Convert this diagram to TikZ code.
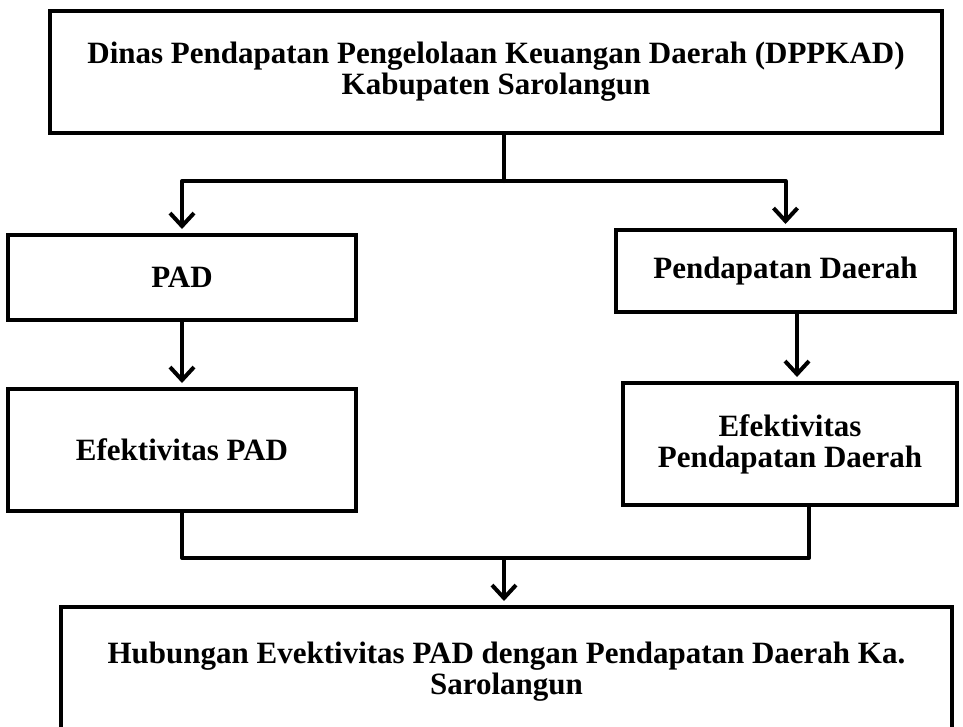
\documentclass[tikz,border=0pt]{standalone}
\usepackage{fontspec}
\setmainfont{Liberation Serif}
\usetikzlibrary{positioning,arrows.meta}
\definecolor{boxline}{HTML}{000000}
\tikzset{
  kotak/.style ={draw=boxline, line width=4pt, fill=white, align=center,
                 inner sep=0pt, font=\bfseries\fontsize{31}{31}\selectfont},
  alur/.style  ={line width=4pt, line cap=round, line join=round, draw=boxline},
  panah/.style ={alur, -{Straight Barb[length=13pt,width=24pt,line width=4pt]}, shorten >=4pt},
}
\begin{document}
\begin{tikzpicture}[x=1pt,y=-1pt]
  \useasboundingbox (0,0) rectangle (963,726);
  \clip (0,0) rectangle (963,726);
  % kotak-kotak
  \node[kotak, minimum width=892pt, minimum height=122pt] (dppkad) at (496,72)
    {Dinas Pendapatan Pengelolaan Keuangan Daerah (DPPKAD)\\Kabupaten Sarolangun};
  \node[kotak, minimum width=348pt, minimum height=85pt] (pad) at (182,277.5) {PAD};
  \node[kotak, minimum width=348pt, minimum height=122pt] (efpad) at (182,450) {Efektivitas PAD};
  \node[kotak, minimum width=339pt, minimum height=82pt] (pd) at (785.5,271) {Pendapatan Daerah};
  \node[kotak, minimum width=334pt, minimum height=122pt] (efpd) at (790,444)
    {Efektivitas\\Pendapatan Daerah};
  \node[kotak, minimum width=891pt, minimum height=130pt] (hub) at (506.5,672)
    {Hubungan Evektivitas PAD dengan Pendapatan Daerah Ka.\\Sarolangun};
  % titik cabang
  \coordinate (cabang) at (504,181);
  \coordinate (gabung) at (504,558);
  \coordinate (kanan) at (809,558);
  % alur
  \draw[alur] (dppkad.south -| cabang) -- (cabang);
  \draw[panah] (cabang) -| (pad.north);
  \draw[panah] (cabang) -| (pd.north);
  \draw[panah] (pad) -- (efpad);
  \draw[panah] (pd.south -| 797,0) -- (efpd.north -| 797,0);
  \draw[alur] (efpad.south) |- (kanan) -- (efpd.south -| kanan);
  \draw[panah] (gabung) -- (hub.north -| gabung);
\end{tikzpicture}
\end{document}
